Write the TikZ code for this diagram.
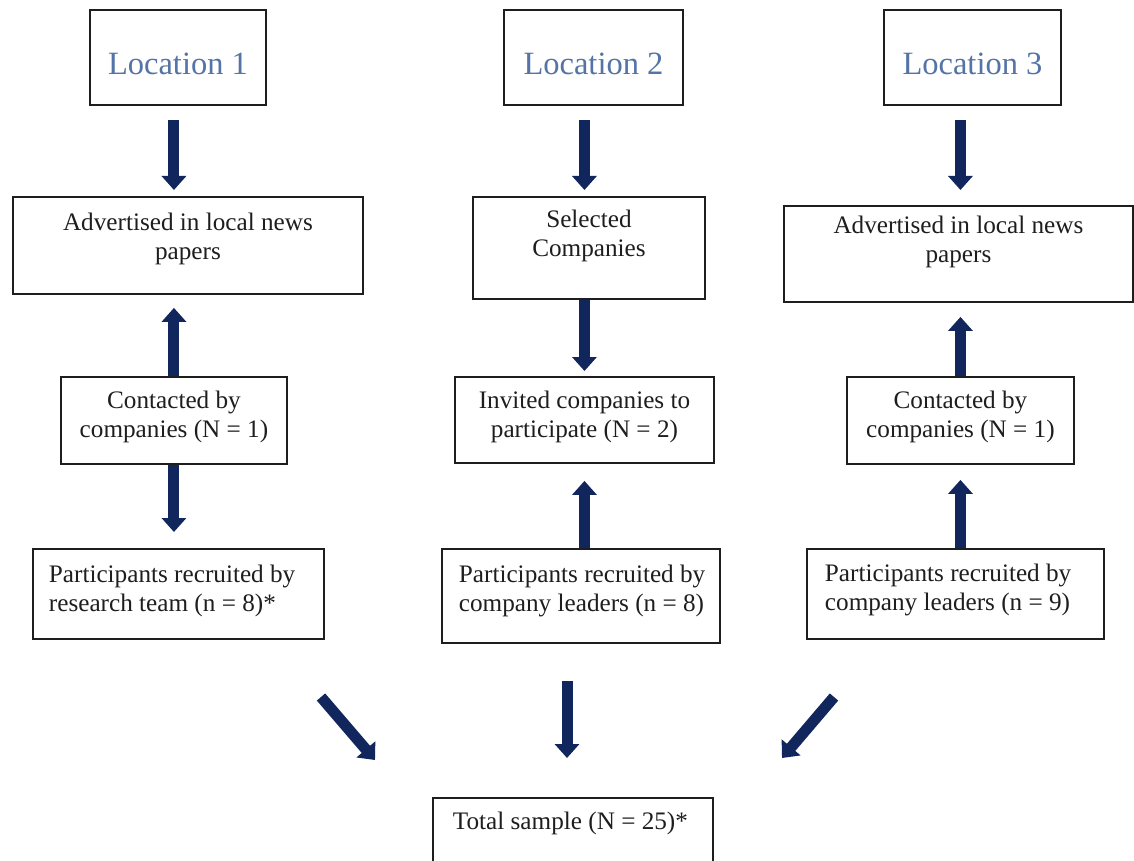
\documentclass[tikz,border=0pt]{standalone}
\usepackage{fontspec}
\setmainfont{Liberation Serif}
\usetikzlibrary{arrows.meta}
\definecolor{locblue}{RGB}{84,116,166}
\definecolor{arrowblue}{RGB}{16,38,92}
\definecolor{inkgray}{RGB}{30,30,30}
\newcommand{\bodyfont}{\fontsize{12.6pt}{14.5pt}\selectfont}
\newcommand{\locfont}{\fontsize{16.25pt}{19.5pt}\selectfont}
% box text: width, height, first baseline, (left pad), text
\newcommand{\midtext}[4]{\parbox[c][#2][t]{#1}{\centering\vspace*{\dimexpr#3-\ht\strutbox\relax}\strut#4}}
\newcommand{\lefttext}[5]{\parbox[c][#2][t]{#1}{\raggedright\leftskip=#4\relax\vspace*{\dimexpr#3-\ht\strutbox\relax}\strut#5}}
\begin{document}
\begin{tikzpicture}[x=0.5pt,y=-0.5pt,
  box/.style={draw=inkgray, line width=0.95pt, inner sep=0pt, anchor=north west, text=inkgray, font=\bodyfont},
  loc/.style={box, text=locblue, font=\locfont},
  flow/.style={draw=arrowblue, line width=5.5pt, -{Triangle[length=7pt,width=12pt]}}]
\clip (0,0) rectangle (1134,861);
\fill[white] (0,0) rectangle (1134,861);

% locations
\node[loc] (loc1) at (89,9) {\midtext{88pt}{47.5pt}{32.5pt}{Location 1}};
\node[loc] (loc2) at (503,9) {\midtext{89.5pt}{47.5pt}{32.5pt}{Location 2}};
\node[loc] (loc3) at (883,9) {\midtext{88.5pt}{47.5pt}{32.5pt}{Location 3}};

% first step
\node[box] (adv1) at (12,196) {\midtext{175pt}{48.5pt}{17pt}{Advertised in local news\\papers}};
\node[box] (sel) at (472,196) {\midtext{116pt}{51pt}{15.5pt}{Selected\\Companies}};
\node[box] (adv3) at (783,205) {\midtext{174.5pt}{48pt}{14pt}{Advertised in local news\\papers}};

% contacts
\node[box] (con1) at (60,376) {\midtext{113pt}{43.5pt}{16pt}{Contacted by\\companies (N = 1)}};
\node[box] (inv) at (454,376) {\midtext{129.5pt}{43pt}{16pt}{Invited companies to\\participate (N = 2)}};
\node[box] (con3) at (846,376) {\midtext{113.5pt}{43.5pt}{16pt}{Contacted by\\companies (N = 1)}};

% recruitment
\node[box] (par1) at (32,548) {\lefttext{145.5pt}{45pt}{17pt}{8pt}{Participants recruited by\\research team (n = 8)*}};
\node[box] (par2) at (441,548) {\lefttext{139pt}{47pt}{17pt}{8.5pt}{Participants recruited by\\company leaders (n = 8)}};
\node[box] (par3) at (806,548) {\lefttext{148.5pt}{45pt}{16.5pt}{9pt}{Participants recruited by\\company leaders (n = 9)}};

\node[box] (tot) at (432,797) {\lefttext{140pt}{40pt}{16pt}{10pt}{Total sample (N = 25)*}};

% arrows, column 1
\draw[flow, shorten <=7pt, shorten >=3pt] (loc1.south -| con1) -- (adv1.north -| con1);
\draw[flow, shorten >=6.5pt] (con1.north) -- (adv1.south -| con1);
\draw[flow, shorten >=8pt] (con1.south) -- (par1.north -| con1);
% arrows, column 2
\draw[flow, shorten <=7pt, shorten >=3pt] (loc2.south -| inv) -- (sel.north -| inv);
\draw[flow, shorten >=2.5pt] (sel.south -| inv) -- (inv.north);
\draw[flow, shorten >=8.5pt] (par2.north -| inv) -- (inv.south);
% arrows, column 3
\draw[flow, shorten <=7pt, shorten >=7.5pt] (loc3.south -| con3) -- (adv3.north -| con3);
\draw[flow, shorten >=7pt] (con3.north) -- (adv3.south -| con3);
\draw[flow, shorten >=7.5pt] (par3.north -| con3) -- (con3.south);

% towards the total
\coordinate (in1) at (321,697);
\coordinate (out1) at (375,760);
\coordinate (in2) at (567,681);
\coordinate (out2) at (567,758);
\coordinate (in3) at (834,697);
\coordinate (out3) at (782,758);
\foreach \s/\e in {in1/out1,in2/out2,in3/out3}
  \draw[flow] (\s) -- (\e);
\end{tikzpicture}
\end{document}
